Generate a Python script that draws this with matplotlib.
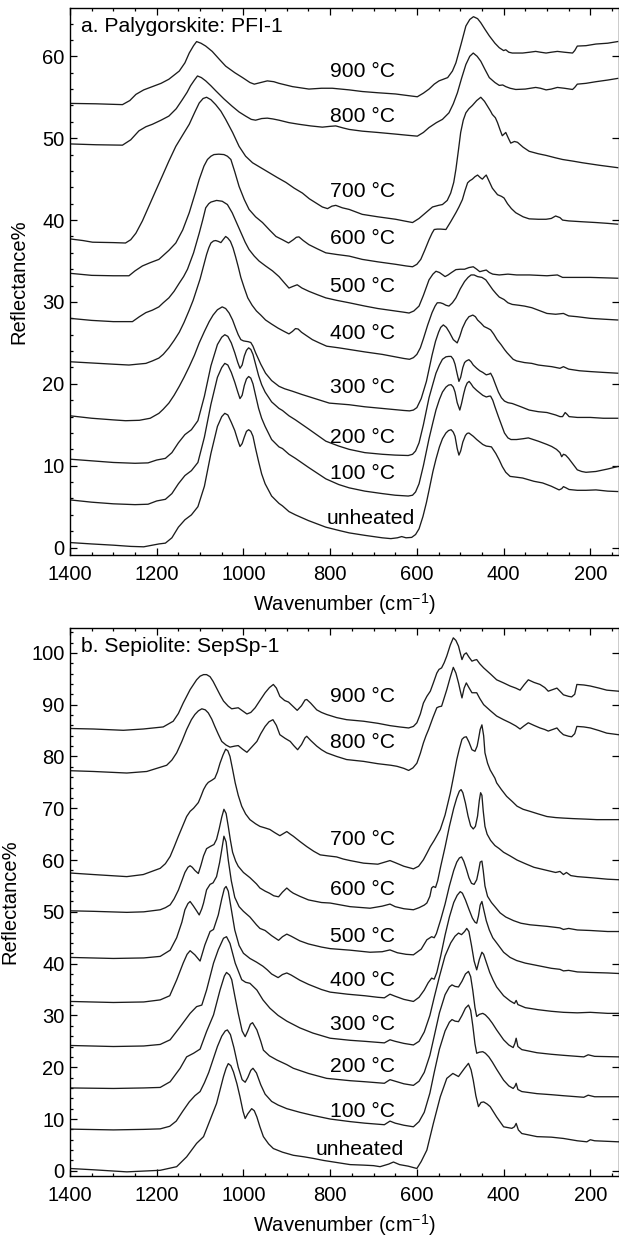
import numpy as np
import matplotlib
matplotlib.use('Agg')
import matplotlib.pyplot as plt
from matplotlib.ticker import MultipleLocator

plt.rcParams['font.family'] = ['Liberation Sans', 'DejaVu Sans']
plt.rcParams['mathtext.fontset'] = 'custom'
plt.rcParams['mathtext.rm'] = 'Liberation Sans'
plt.rcParams['mathtext.it'] = 'Liberation Sans:italic'

LABELS = ['900 °C', '800 °C', '700 °C', '600 °C', '500 °C', '400 °C',
          '300 °C', '200 °C', '100 °C', 'unheated']

# ---------------- Panel a: Palygorskite PFI-1 (wavenumber, reflectance) ----------------
A_900 = [(1400,54.25),(1340,54.2),(1279,54.1),(1262,54.6),(1248,55.35),(1230,55.9),(1210,56.3),(1190,56.7),(1172,57.2),(1148,58.2),(1135,59.2),(1125,60.4),(1115,61.3),(1108,61.8),(1098,61.6),(1087,61.25),(1072,60.6),(1055,59.6),(1041,58.8),(1020,58.0),(1002,57.4),(985,56.8),(975,56.6),(960,56.8),(945,57.0),(930,56.9),(918,56.7),(887,56.3),(849,56.0),(820,56.1),(795,56.1),(756,55.9),(726,55.7),(690,55.55),(649,55.4),(620,55.2),(599,55.06),(585,55.5),(572,56.0),(560,56.6),(549,57.0),(529,57.4),(518,58.2),(510,59.2),(498,61.5),(487,63.7),(478,64.5),(469.5,64.84),(460,64.6),(452.6,64.1),(443,63.3),(433,62.5),(420,61.6),(410,61.05),(400,60.7),(395,60.8),(388,60.5),(380,60.4),(356,60.4),(340,60.5),(326,60.6),(315,60.5),(302,60.4),(290,60.5),(276,60.6),(260,60.5),(241,60.4),(236,60.7),(230,61.25),(210,61.3),(187,61.5),(160,61.6),(137,61.8)]
A_800 = [(1400,49.3),(1340,49.2),(1279,49.15),(1260,49.8),(1241,50.9),(1225,51.4),(1210,51.7),(1190,52.2),(1172,52.7),(1155,53.6),(1141,54.7),(1130,55.6),(1122,56.4),(1113,57.1),(1106,57.6),(1097,57.4),(1087,57.0),(1075,56.4),(1064,55.8),(1045,54.8),(1026,53.9),(1010,53.2),(995,52.7),(982,52.3),(972,52.2),(958,52.4),(945,52.45),(932,52.35),(918,52.2),(895,51.9),(872,51.7),(845,51.5),(818,51.35),(800,51.45),(787,51.5),(770,51.25),(756,51.07),(726,50.86),(690,50.7),(649,50.5),(620,50.35),(599,50.25),(585,50.7),(572,51.3),(555,51.9),(541,52.3),(526,53.1),(516,54.2),(506.5,55.55),(497,57.3),(487,59.0),(478,60.0),(470,60.4),(461,60.0),(452.6,59.4),(443,58.4),(433,57.4),(420,56.8),(410,56.45),(402,56.5),(395,56.3),(385,56.1),(372,55.95),(350,56.0),(326,56.2),(315,56.1),(302,55.9),(290,56.0),(276,56.2),(260,56.1),(241,55.95),(236,56.2),(230,56.6),(210,56.7),(187,56.9),(160,57.1),(137,57.3)]
A_700 = [(1400,37.7),(1370,37.5),(1348,37.3),(1300,37.25),(1272,37.2),(1260,37.6),(1248,38.4),(1233,39.9),(1218,41.7),(1203,43.5),(1187,45.4),(1172,47.2),(1156,49.0),(1140,50.4),(1125,51.7),(1112,53.2),(1102,54.3),(1093,54.85),(1085,55.0),(1075,54.7),(1064,54.1),(1052,53.3),(1041,52.3),(1025,50.7),(1010,49.0),(995,47.8),(979,47.0),(960,46.4),(941,45.8),(922,45.2),(902,44.6),(883,43.9),(864,43.3),(848,42.6),(833,42.1),(818,41.6),(806,41.4),(796,41.7),(787,41.8),(772,41.5),(756,41.3),(726,40.7),(690,40.4),(649,40.1),(625,39.85),(610,39.7),(595,40.2),(579.5,40.9),(564,41.6),(550,41.8),(541,41.9),(530,42.4),(522,43.3),(515,44.6),(510,46.2),(504,48.6),(499,50.7),(493,52.2),(487,53.1),(480,53.6),(472,54.0),(462,54.6),(452.6,55.0),(444,54.5),(437,53.9),(430,53.3),(426,52.9),(419,52.5),(414,51.9),(408,51.0),(403,50.3),(399,50.5),(395,50.7),(389,50.0),(383.5,49.4),(375,49.6),(368,49.5),(355,48.9),(341,48.4),(320,48.1),(302,47.9),(280,47.6),(264,47.4),(240,47.2),(218,47.0),(180,46.7),(137,46.4)]
A_600 = [(1400,33.5),(1350,33.25),(1300,33.2),(1264,33.2),(1250,33.8),(1233,34.4),(1215,34.8),(1195,35.2),(1172,36.3),(1156,37.2),(1140,38.8),(1125,40.9),(1110,43.5),(1102,44.96),(1091,46.6),(1083,47.4),(1075,47.8),(1068,48.0),(1057,48.05),(1045,48.0),(1037,47.8),(1029,47.4),(1020,45.9),(1010,44.1),(998,42.5),(987,41.3),(972,40.4),(956,39.7),(940,38.8),(925,38.0),(910,37.6),(896,37.2),(885,37.6),(878,37.9),(872,37.95),(862,37.5),(849,37.0),(830,36.5),(810,36.0),(785,35.8),(756,35.6),(726,35.2),(690,34.9),(649,34.6),(625,34.4),(610,34.3),(600,34.6),(591,35.2),(582,36.3),(572,37.6),(565,38.4),(560,38.85),(553,38.9),(545,38.9),(533,38.85),(522,39.8),(510,40.9),(503,41.6),(495,42.5),(489,43.6),(483,44.55),(478,44.8),(472,45.0),(466,45.3),(460,45.5),(454,45.2),(449,45.0),(444,45.3),(440,45.5),(433,44.7),(426,43.9),(420,43.5),(414,43.1),(405,42.9),(399,42.7),(391,42.0),(382,41.4),(372,40.9),(355,40.4),(341,40.15),(320,40.1),(302,40.1),(290,40.2),(280,40.5),(270,40.3),(264,40.0),(250,39.9),(220,39.8),(187,39.7),(160,39.6),(137,39.5)]
A_500 = [(1400,28.0),(1350,27.75),(1300,27.6),(1256,27.6),(1240,28.2),(1225,28.7),(1210,29.0),(1195,29.4),(1185,29.9),(1172,30.5),(1160,31.3),(1148,32.3),(1138,33.1),(1129,34.0),(1115,36.0),(1102,38.4),(1094,40.0),(1087,41.5),(1080,42.0),(1075,42.2),(1062,42.4),(1049,42.3),(1037,41.9),(1026,40.9),(1016,39.7),(1006,38.5),(996,37.3),(987,36.4),(975,35.6),(964,35.0),(949,34.4),(933,33.8),(918,33.1),(905,32.3),(895,31.7),(886,31.9),(876,32.1),(865,31.7),(849,31.3),(830,30.9),(810,30.5),(785,30.2),(756,29.9),(720,29.5),(690,29.2),(650,28.9),(630,28.75),(618,28.65),(607,28.9),(595,29.5),(585,30.8),(572,32.7),(563,33.4),(556,33.75),(548,33.6),(540,33.3),(535,33.1),(528,33.3),(520,33.6),(510,33.95),(500,34.0),(490,34.0),(480,34.2),(470,34.3),(462,34.0),(455,33.7),(448,33.8),(440,33.9),(433,33.6),(425,33.4),(410,33.3),(390,33.4),(370,33.3),(340,33.3),(300,33.2),(276,33.3),(264,33.0),(230,33.0),(200,33.0),(137,32.9)]
A_400 = [(1400,22.7),(1350,22.55),(1300,22.4),(1264,22.3),(1245,22.4),(1225,22.5),(1210,22.8),(1195,23.15),(1185,23.6),(1172,24.4),(1160,25.3),(1148,26.3),(1137,27.5),(1125,29.0),(1116,30.2),(1108,31.5),(1100,32.8),(1095,33.8),(1090,34.8),(1085,35.8),(1080,36.6),(1075,37.2),(1069,37.45),(1064,37.5),(1058,37.4),(1052,37.25),(1047,37.6),(1041,38.0),(1036,37.8),(1030,37.4),(1024,36.6),(1018,35.5),(1012,34.3),(1006,33.0),(998,31.7),(990,30.5),(980,29.6),(970,28.9),(960,28.4),(949,27.8),(935,27.3),(920,26.8),(906,26.4),(895,26.1),(887,26.4),(880,26.75),(874,26.7),(866,26.3),(855,25.9),(841,25.4),(825,25.0),(808,24.6),(780,24.4),(756,24.2),(720,23.9),(680,23.6),(650,23.3),(630,23.1),(617,23.0),(608,23.2),(600,23.6),(592,24.4),(585,25.5),(575,27.2),(565,28.7),(558,29.5),(553,29.9),(546,29.9),(540,29.8),(533,29.6),(526,29.5),(518,29.9),(510,30.5),(500,31.6),(490,32.5),(482,33.0),(475,33.3),(468,33.3),(460,33.1),(450,33.0),(441,32.7),(433,32.1),(425,31.5),(417,31.0),(410,30.6),(399,30.3),(390,29.9),(380,29.7),(365,29.6),(352,29.5),(335,29.3),(320,29.0),(300,28.6),(280,28.5),(262,28.6),(250,28.3),(230,28.2),(200,28.0),(170,27.9),(137,27.8)]
A_300 = [(1400,16.1),(1350,15.8),(1300,15.6),(1272,15.5),(1240,15.55),(1215,15.8),(1195,16.4),(1185,16.9),(1172,17.65),(1160,18.6),(1148,19.7),(1137,20.8),(1125,22.1),(1113,23.5),(1102,25.0),(1090,26.4),(1079,27.6),(1070,28.4),(1060,29.05),(1049,29.4),(1041,29.2),(1033,28.65),(1025,27.8),(1018,26.8),(1012,26.0),(1006,25.4),(1000,25.25),(995,25.2),(989,25.15),(983,25.05),(978,24.6),(972,23.8),(960,22.4),(949,21.3),(935,20.4),(918,19.7),(905,19.4),(887,19.1),(865,18.7),(841,18.3),(820,17.95),(802,17.65),(756,17.45),(720,17.2),(680,17.0),(650,16.85),(630,16.75),(617,16.7),(608,16.8),(600,17.1),(590,18.2),(578,20.3),(565,23.5),(557,25.2),(550,26.3),(545,26.9),(539,27.2),(532,26.9),(525,26.3),(516,25.4),(507,25.0),(501,25.8),(495,26.8),(487,27.7),(480,28.2),(471,28.4),(465,28.2),(460,27.8),(452,27.4),(445,27.0),(437,26.8),(430,26.6),(423,26.1),(415,25.4),(406,24.8),(398,24.2),(392,23.8),(385,23.4),(378,23.0),(370,22.8),(352,22.6),(335,22.5),(320,22.3),(305,22.2),(289,22.1),(270,21.9),(262,22.1),(250,21.8),(225,21.6),(200,21.5),(170,21.4),(137,21.3)]
A_200 = [(1400,10.8),(1350,10.6),(1300,10.4),(1250,10.3),(1220,10.35),(1200,10.7),(1180,10.9),(1165,11.6),(1150,12.8),(1135,13.8),(1120,14.4),(1105,15.5),(1090,18.5),(1075,22.2),(1060,24.8),(1050,25.7),(1043,26.0),(1036,25.8),(1028,25.0),(1020,23.8),(1013,22.6),(1008,21.9),(1003,22.3),(998,23.4),(993,24.1),(988,24.4),(983,24.2),(978,23.6),(972,22.4),(965,21.0),(958,19.9),(950,19.0),(935,17.8),(918,17.0),(910,16.75),(895,16.1),(880,15.6),(850,14.5),(810,13.0),(780,12.4),(756,12.0),(720,11.6),(680,11.4),(650,11.3),(620,11.25),(610,11.4),(603,11.8),(595,12.8),(585,15.0),(572,18.3),(563,20.0),(556,21.3),(548,22.3),(541,23.0),(533,23.3),(527,23.35),(521,23.35),(516,23.0),(512,22.4),(507,21.2),(503,20.3),(499,20.8),(494,22.0),(490,22.6),(486,22.8),(480,22.95),(475,22.7),(470,22.3),(462,21.9),(455,21.6),(448,21.4),(440,21.1),(433,21.2),(430,21.3),(425,20.8),(420,20.1),(412,19.0),(405,18.3),(398,17.9),(390,17.7),(380,17.6),(360,17.2),(341,16.8),(320,16.6),(300,16.5),(280,16.2),(270,16.0),(264,16.0),(258,16.5),(254,16.3),(249,16.0),(230,15.9),(200,15.9),(170,15.8),(137,15.8)]
A_100 = [(1400,5.83),(1350,5.55),(1300,5.35),(1250,5.25),(1220,5.3),(1200,5.7),(1180,5.9),(1165,6.6),(1150,7.8),(1135,8.8),(1120,9.4),(1105,10.4),(1090,13.5),(1075,17.5),(1060,20.8),(1050,22.0),(1043,22.5),(1036,22.3),(1028,21.4),(1020,20.2),(1013,19.0),(1008,18.2),(1003,18.6),(998,19.8),(993,20.6),(988,20.9),(983,20.7),(978,20.0),(972,18.6),(965,17.0),(958,15.8),(950,14.8),(935,13.2),(918,12.3),(910,12.1),(895,11.4),(880,10.9),(850,9.8),(810,8.4),(780,7.7),(756,7.3),(720,6.9),(680,6.6),(650,6.4),(620,6.3),(610,6.4),(603,6.8),(595,7.8),(585,10.0),(572,13.3),(563,15.3),(556,16.8),(548,18.1),(541,19.0),(533,19.6),(527,19.85),(521,19.9),(516,19.6),(512,19.0),(507,17.7),(501,16.8),(497,17.6),(492,18.8),(488,19.6),(484,20.1),(479.5,20.3),(475,20.0),(470,19.6),(462,19.2),(455,18.9),(448,18.6),(440,18.4),(433,18.5),(430,18.5),(425,18.0),(420,17.2),(412,16.0),(405,15.0),(398,14.0),(390,13.4),(383,13.2),(370,13.2),(355,13.3),(343,13.4),(320,13.0),(300,12.6),(289,12.35),(278,12.0),(270,11.6),(266,11.1),(262,11.4),(257,11.3),(250,10.9),(240,10.2),(230,9.5),(220,9.3),(210,9.2),(187,9.3),(160,9.6),(137,9.9)]
A_UNH = [(1400,0.62),(1350,0.45),(1300,0.3),(1260,0.15),(1230,0.1),(1210,0.3),(1195,0.45),(1180,0.55),(1165,1.2),(1150,2.5),(1135,3.4),(1120,4.0),(1105,5.0),(1090,7.5),(1075,11.5),(1060,14.8),(1050,16.0),(1043,16.4),(1036,16.2),(1028,15.3),(1020,14.3),(1013,13.1),(1008,12.35),(1003,12.7),(998,13.5),(993,14.2),(988,14.4),(983,14.2),(978,13.6),(972,12.1),(965,10.5),(958,9.0),(950,7.8),(935,6.3),(918,5.4),(910,5.1),(895,4.4),(880,4.0),(850,3.3),(810,2.5),(780,2.1),(756,1.8),(720,1.5),(680,1.2),(660,1.1),(645,1.2),(635,1.35),(625,1.2),(612,1.25),(603,1.6),(595,2.3),(586,3.8),(578,5.5),(572,7.0),(563,9.3),(556,10.8),(548,12.3),(541,13.3),(533,14.0),(527,14.3),(521,14.4),(516,14.1),(512,13.6),(507,12.1),(503,11.3),(499,11.8),(494,12.9),(488,13.7),(484,13.95),(480,14.0),(475,13.8),(470,13.6),(462,13.2),(455,12.9),(448,12.6),(440,12.4),(433,12.35),(428,12.3),(423,11.9),(418,11.5),(410,10.7),(403,9.9),(395,9.2),(385,8.7),(370,8.6),(356,8.5),(330,8.1),(310,7.9),(290,7.5),(272,7.05),(266,7.2),(262,7.45),(256,7.3),(249,7.1),(230,7.0),(210,7.0),(187,7.05),(160,6.9),(137,6.85)]

# ---------------- Panel b: Sepiolite SepSp-1 ----------------
B_900 = [(1400,85.4),(1346,85.3),(1277,85.05),(1231,85.3),(1185,85.7),(1162,86.8),(1150,88.3),(1139,90.3),(1123,92.9),(1108,94.8),(1100,95.5),(1092,95.8),(1085,95.8),(1077,95.4),(1070,94.5),(1062,93.2),(1054,91.9),(1046,90.7),(1035,89.7),(1027,89.2),(1020,89.3),(1012,89.4),(1002,88.8),(992,88.2),(983,88.5),(973,89.4),(962,90.8),(950,92.3),(940,93.3),(931,93.9),(924,93.2),(916,91.6),(905,90.8),(896,90.5),(886,89.7),(876,88.9),(866,89.8),(858,90.9),(854,91.0),(845,90.3),(831,89.0),(820,88.5),(808,88.1),(785,87.5),(762,87.1),(723,86.8),(690,86.4),(662,85.95),(640,85.7),(619,85.5),(608,85.8),(600,86.5),(592,88.2),(585,90.3),(577,91.6),(569,92.6),(562,94.2),(554,96.1),(549,96.8),(543,97.1),(537,98.1),(531,99.4),(523,101.5),(516,102.9),(510,102.4),(504,101.3),(500,100.0),(496,98.7),(491,99.7),(486,100.0),(480,99.2),(473,98.4),(467,98.6),(462,98.7),(455,97.9),(446,97.1),(430,95.9),(416,94.8),(400,94.2),(385,93.6),(372,93.2),(362,92.8),(353,93.8),(343,94.8),(330,94.3),(316,93.9),(305,93.3),(297,92.6),(287,92.9),(277,93.2),(270,92.6),(262,91.9),(250,91.6),(243,91.5),(236,92.0),(231,93.9),(215,93.8),(200,93.6),(180,93.2),(162,92.8),(135,92.6)]
B_800 = [(1400,77.25),(1346,77.1),(1269,76.8),(1223,77.1),(1177,78.3),(1165,79.3),(1154,80.7),(1142,82.9),(1131,85.2),(1120,87.1),(1112,88.1),(1104,88.8),(1096,89.2),(1088,89.0),(1081,88.4),(1073,87.2),(1066,85.8),(1058,84.3),(1050,82.9),(1040,82.2),(1031,81.8),(1020,82.0),(1012,82.1),(1002,81.4),(992,80.8),(981,81.8),(969,82.9),(960,84.4),(950,85.8),(941,86.7),(932,87.1),(924,86.0),(916,84.2),(904,83.5),(892,82.9),(884,82.1),(875,81.3),(866,82.3),(858,83.6),(854,83.9),(845,83.1),(831,82.0),(820,81.3),(808,80.7),(785,80.0),(762,79.4),(723,79.05),(690,78.6),(660,78.3),(646,78.1),(630,77.7),(619,77.3),(609,77.8),(600,78.7),(592,80.6),(585,82.6),(579,84.0),(573,85.2),(563,87.5),(554,89.4),(549,89.6),(543,89.7),(537,91.3),(531,92.9),(523,95.3),(516,97.2),(510,96.1),(504,94.2),(500,92.7),(496,91.3),(491,93.2),(486,94.2),(480,93.3),(473,92.3),(467,92.3),(462,92.3),(455,91.2),(446,90.0),(430,88.8),(416,87.8),(400,87.1),(385,86.5),(372,85.9),(362,85.3),(353,85.9),(343,86.5),(330,86.0),(316,85.5),(305,85.2),(297,84.9),(287,85.2),(277,85.5),(270,84.8),(262,84.2),(250,83.9),(243,83.8),(236,84.4),(231,85.8),(215,85.7),(200,85.5),(180,85.0),(162,84.5),(135,84.2)]
B_700 = [(1400,57.5),(1346,57.2),(1269,56.8),(1231,57.2),(1192,58.4),(1180,59.3),(1169,60.7),(1160,62.5),(1150,64.6),(1140,66.6),(1131,68.4),(1123,69.4),(1115,70.0),(1110,70.5),(1104,71.1),(1098,72.3),(1092,73.6),(1086,74.5),(1081,75.0),(1073,75.4),(1066,75.8),(1060,77.0),(1054,78.7),(1047,80.3),(1041,81.4),(1036,81.1),(1031,80.0),(1025,77.5),(1019,74.9),(1012,72.5),(1004,70.4),(995,68.9),(985,67.8),(972,67.0),(962,66.5),(950,66.2),(939,65.9),(928,65.3),(916,64.7),(908,65.1),(900,65.5),(892,65.0),(885,64.6),(870,63.6),(854,62.6),(838,61.7),(823,61.0),(805,60.8),(785,60.6),(770,60.2),(754,59.9),(723,59.4),(690,59.2),(662,59.9),(650,59.5),(630,58.8),(608,58.3),(596,58.8),(585,60.05),(577,61.3),(569,62.6),(560,63.8),(546,65.9),(535,68.7),(523,72.9),(515,76.3),(508,79.4),(502,81.5),(496,83.3),(491,83.7),(486,83.8),(480,82.8),(473,81.3),(466,81.0),(461,82.0),(458,83.3),(454,85.2),(450,86.1),(446,84.0),(443,80.7),(437,78.7),(431,77.4),(420,75.8),(416,74.9),(405,73.6),(393,72.3),(380,71.3),(369,70.4),(355,69.8),(339,69.4),(320,68.9),(300,68.4),(280,68.2),(262,68.1),(240,68.0),(210,67.9),(185,67.8),(160,67.8),(135,67.8)]
B_600 = [(1400,50.2),(1346,50.1),(1269,49.9),(1230,50.0),(1192,50.4),(1180,50.8),(1169,51.35),(1160,52.5),(1150,54.2),(1142,56.0),(1135,57.6),(1128,58.6),(1123,58.9),(1118,58.6),(1112,58.0),(1104,57.4),(1098,59.0),(1092,60.8),(1085,62.2),(1077,62.6),(1068,63.0),(1062,64.0),(1056,66.0),(1050,68.3),(1045,69.8),(1040,69.0),(1035,66.5),(1030,63.8),(1025,61.5),(1018,59.8),(1012,58.8),(1000,57.6),(985,56.6),(970,55.4),(962,54.6),(950,54.0),(940,53.6),(930,53.1),(919,52.9),(910,53.8),(900,54.6),(892,54.0),(885,53.6),(870,53.0),(850,52.3),(820,51.8),(800,51.7),(754,51.0),(708,50.7),(680,51.1),(662,51.5),(650,51.0),(630,50.6),(608,50.4),(595,50.8),(583,51.3),(577,51.7),(570,53.0),(566,54.6),(562,54.9),(557,54.7),(552,56.0),(545,58.8),(535,62.5),(525,66.5),(515,70.0),(508,72.0),(502,73.3),(498,73.6),(494,73.0),(488,71.0),(482,68.5),(476,66.6),(470,66.0),(465,66.5),(460,68.5),(456,71.5),(453,73.0),(450,72.5),(447,69.5),(443,66.5),(438,65.0),(430,63.8),(420,62.8),(410,62.2),(400,61.5),(385,60.8),(369,60.0),(350,59.3),(330,58.6),(300,58.0),(280,57.6),(270,57.8),(262,57.2),(255,57.6),(245,57.0),(230,56.8),(200,56.6),(160,56.3),(135,56.2)]
B_500 = [(1400,41.2),(1300,41.0),(1230,41.1),(1192,41.4),(1169,42.6),(1154,45.0),(1142,48.0),(1135,50.4),(1128,51.6),(1123,52.0),(1116,51.2),(1108,50.2),(1102,49.4),(1096,50.6),(1092,51.7),(1085,54.25),(1077,55.3),(1070,55.6),(1062,56.8),(1055,59.5),(1050,62.0),(1045,64.6),(1040,63.5),(1035,60.0),(1028,56.0),(1020,52.8),(1010,51.0),(1000,50.1),(985,49.0),(970,47.5),(962,46.8),(950,46.4),(935,45.4),(919,44.5),(910,45.2),(900,45.7),(890,45.3),(870,44.4),(850,43.8),(820,43.2),(800,42.9),(754,42.6),(708,42.2),(680,42.3),(662,42.65),(645,42.1),(625,41.8),(608,41.7),(590,42.8),(577,44.6),(566,45.2),(560,45.0),(555,45.8),(545,48.5),(535,51.5),(525,55.0),(515,58.0),(508,59.6),(502,60.4),(497,60.6),(492,59.8),(486,58.3),(480,56.6),(474,55.5),(468,55.3),(462,56.2),(457,58.2),(454,59.6),(450,59.8),(447,58.0),(443,55.0),(437,53.0),(428,51.8),(418,50.8),(408,49.8),(395,49.0),(377,48.3),(360,47.8),(339,47.5),(300,47.2),(270,46.9),(262,46.6),(250,46.8),(230,46.5),(200,46.4),(160,46.2),(135,46.2)]
B_400 = [(1400,32.7),(1300,32.5),(1230,32.6),(1192,33.0),(1170,33.8),(1154,36.85),(1139,40.1),(1130,41.8),(1123,42.5),(1112,41.7),(1100,40.5),(1089,43.6),(1077,46.2),(1069,46.6),(1058,49.4),(1050,52.5),(1044,54.5),(1040,54.9),(1035,54.0),(1028,50.5),(1020,46.5),(1010,43.5),(1000,42.0),(985,41.0),(970,40.3),(955,39.5),(945,38.8),(935,38.0),(920,37.3),(910,37.9),(900,38.2),(890,37.8),(870,36.8),(850,36.0),(820,35.0),(800,34.5),(760,34.1),(720,33.8),(690,33.5),(675,33.4),(662,34.1),(650,33.7),(630,33.1),(608,32.7),(595,33.5),(583,34.9),(574,36.3),(566,37.2),(560,37.0),(554,38.3),(545,41.5),(535,45.5),(525,49.0),(515,51.8),(507,53.2),(500,53.9),(495,53.6),(488,52.3),(480,50.5),(472,48.8),(466,48.0),(462,47.8),(458,49.2),(454,51.3),(450,52.0),(446,50.5),(440,48.3),(433,46.5),(425,45.0),(416,44.0),(400,42.2),(385,41.2),(370,40.6),(350,40.1),(320,39.6),(290,39.1),(270,38.9),(262,38.6),(250,38.7),(230,38.4),(200,38.3),(160,38.2),(135,38.1)]
B_300 = [(1400,24.2),(1300,24.0),(1230,24.1),(1192,24.4),(1169,25.3),(1146,27.8),(1123,30.4),(1108,31.7),(1096,32.0),(1085,34.9),(1069,40.1),(1058,42.7),(1046,44.9),(1039,45.2),(1031,43.9),(1019,40.1),(1004,36.9),(995,36.4),(985,36.2),(969,34.9),(955,33.0),(939,31.4),(920,30.0),(900,28.9),(870,27.6),(840,26.6),(800,25.6),(754,25.2),(720,25.0),(690,24.8),(675,24.7),(662,25.3),(650,25.0),(630,24.6),(608,24.3),(595,25.0),(583,26.8),(570,30.0),(560,33.5),(548,37.5),(535,41.5),(522,44.0),(512,45.3),(504,45.9),(497,45.6),(490,46.2),(485,46.8),(480,46.2),(474,43.5),(468,40.5),(462,38.8),(456,40.8),(450,42.2),(446,41.8),(440,40.3),(432,38.3),(424,36.8),(416,35.5),(400,33.8),(385,32.8),(375,32.3),(371,32.9),(367,32.1),(350,31.5),(320,31.1),(290,30.8),(262,30.6),(230,30.5),(200,30.6),(160,30.4),(135,30.4)]
B_200 = [(1400,16.0),(1300,15.9),(1230,16.0),(1192,16.1),(1169,17.2),(1146,19.8),(1131,22.0),(1115,22.7),(1100,23.5),(1085,26.9),(1069,30.1),(1054,34.9),(1044,37.6),(1039,38.3),(1032,37.8),(1027,36.9),(1020,33.8),(1012,30.4),(1003,27.0),(996,25.9),(990,27.0),(984,28.3),(979,28.6),(969,27.2),(960,25.0),(954,23.3),(940,22.2),(923,21.4),(900,20.5),(885,19.8),(850,18.8),(808,17.85),(754,17.4),(720,17.2),(690,17.0),(675,16.9),(662,17.6),(650,17.3),(630,16.8),(608,16.5),(595,17.3),(583,19.0),(570,22.3),(560,26.0),(548,30.5),(535,34.0),(525,35.5),(519,35.9),(512,35.6),(504,35.5),(496,36.6),(488,38.0),(481,38.5),(476,37.5),(471,34.8),(466,31.5),(462,29.8),(456,30.2),(448,30.4),(442,30.1),(434,29.4),(426,28.5),(416,27.2),(400,25.3),(388,24.3),(378,23.8),(374,24.6),(371,25.6),(367,24.0),(358,23.4),(323,22.8),(290,22.5),(262,22.3),(215,22.0),(205,22.4),(190,22.1),(135,22.0)]
B_100 = [(1400,8.05),(1300,7.9),(1230,8.0),(1192,8.1),(1170,8.6),(1155,9.6),(1140,11.5),(1125,13.3),(1112,14.5),(1100,15.3),(1090,17.0),(1080,19.0),(1070,21.5),(1060,24.0),(1050,26.0),(1042,27.0),(1037,27.2),(1030,26.3),(1022,23.8),(1012,20.0),(1003,17.6),(996,17.1),(990,18.0),(983,19.4),(978,19.8),(970,18.9),(960,16.6),(950,14.8),(935,13.4),(920,12.7),(900,12.0),(870,11.3),(840,10.7),(800,10.0),(754,9.5),(720,9.2),(690,9.0),(675,8.9),(662,9.6),(650,9.2),(630,8.8),(608,8.5),(595,9.5),(583,11.3),(570,15.0),(560,19.0),(548,23.5),(535,27.0),(525,28.7),(519,29.2),(512,28.9),(504,28.8),(496,30.0),(488,31.4),(481,32.0),(476,31.0),(471,28.0),(466,24.5),(462,22.7),(456,22.9),(448,23.0),(442,22.7),(434,22.0),(426,21.0),(416,19.6),(400,17.5),(388,16.4),(378,15.9),(374,16.3),(371,16.9),(367,15.7),(358,15.3),(323,14.9),(290,14.7),(262,14.5),(215,14.2),(205,14.6),(190,14.3),(135,14.3)]
B_UNH = [(1400,0.45),(1346,0.2),(1269,-0.2),(1192,0.1),(1154,0.8),(1131,2.7),(1108,5.3),(1092,6.6),(1077,9.8),(1062,13.0),(1046,18.2),(1040,19.8),(1035,20.7),(1029,20.3),(1023,19.1),(1015,16.8),(1008,14.3),(1001,11.5),(996,10.1),(990,11.0),(981,12.0),(975,11.6),(969,10.4),(962,8.5),(954,6.6),(942,5.2),(931,4.3),(910,3.6),(885,3.0),(860,2.7),(839,2.4),(815,2.0),(792,1.7),(754,1.2),(723,1.1),(700,1.0),(685,0.8),(665,1.3),(654,1.7),(640,1.2),(620,0.9),(600,0.45),(590,1.8),(577,4.0),(562,9.15),(546,14.3),(531,17.85),(517,18.8),(504,18.2),(490,19.8),(481,20.75),(475,19.5),(470,17.5),(464,14.5),(458,12.4),(452,13.2),(446,13.3),(438,12.9),(431,12.4),(416,10.4),(400,8.5),(381,8.2),(375,8.5),(371,9.15),(366,7.9),(358,7.2),(323,6.6),(290,6.5),(262,6.25),(230,5.8),(208,5.6),(200,6.0),(190,5.8),(135,5.6)]

A_CURVES = [A_900, A_800, A_700, A_600, A_500, A_400, A_300, A_200, A_100, A_UNH]
B_CURVES = [B_900, B_800, B_700, B_600, B_500, B_400, B_300, B_200, B_100, B_UNH]

A_LABEL_W = [726, 726, 726, 726, 726, 726, 726, 726, 726, 707]
A_LABEL_V = [58.1, 52.6, 43.5, 37.7, 31.9, 26.2, 19.5, 13.4, 9.0, 3.6]
B_LABEL_W = [726, 726, 726, 726, 726, 726, 726, 726, 726, 731]
B_LABEL_V = [91.6, 82.6, 63.9, 54.25, 45.2, 36.7, 28.2, 20.1, 11.4, 4.1]

A_YTICKS = [0, 10, 20, 30, 40, 50, 60]
B_YTICKS = [0, 10, 20, 30, 40, 50, 60, 70, 80, 90, 100]
XTICKS = [1400, 1200, 1000, 800, 600, 400, 200]

FS_TICK = 14.5
FS_TEXT = 15.2
LC = '#1c1c1c'

W, H = 619, 1241
fig = plt.figure(figsize=(W / 100, H / 100), dpi=100)
axA = fig.add_axes([70 / W, 1 - 555 / H, 548.5 / W, 547 / H])
axB = fig.add_axes([70 / W, 1 - 1176 / H, 548.5 / W, 548 / H])


def setup(ax, curves, lw_, lv_, yticks, ylim, title, ylab_x):
    for c in curves:
        arr = np.array(c, dtype=float)
        ax.plot(arr[:, 0], arr[:, 1], color=LC, lw=0.95)
    for lab, xw, yv in zip(LABELS, lw_, lv_):
        ax.text(xw, yv, lab, ha='center', va='center', fontsize=FS_TEXT)
    ax.set_xlim(1400, 135)
    ax.set_ylim(*ylim)
    ax.set_xticks(XTICKS)
    ax.set_yticks(yticks)
    ax.xaxis.set_minor_locator(MultipleLocator(50))
    ax.yaxis.set_minor_locator(MultipleLocator(2))
    ax.tick_params(which='both', direction='in', top=True, right=True,
                   labelsize=FS_TICK, width=0.9)
    ax.tick_params(which='major', length=5)
    ax.tick_params(which='minor', length=2.5, right=False)
    ax.tick_params(axis='x', pad=7)
    ax.tick_params(axis='y', pad=4)
    for s in ax.spines.values():
        s.set_linewidth(1.0)
    ax.set_xlabel('Wavenumber (cm$^{-1}$)', fontsize=FS_TICK)
    ax.xaxis.set_label_coords(0.5, -0.066)
    ax.set_ylabel('Reflectance%', fontsize=FS_TICK)
    ax.yaxis.set_label_coords(ylab_x, 0.5)
    ax.text(0.02, 0.966, title, transform=ax.transAxes, ha='left', va='center',
            fontsize=FS_TEXT)


setup(axA, A_CURVES, A_LABEL_W, A_LABEL_V, A_YTICKS, (-0.9, 65.9),
      'a. Palygorskite: PFI-1', -0.075)
setup(axB, B_CURVES, B_LABEL_W, B_LABEL_V, B_YTICKS, (-1.0, 104.8),
      'b. Sepiolite: SepSp-1', -0.093)

fig.savefig('out.png', dpi=100)
